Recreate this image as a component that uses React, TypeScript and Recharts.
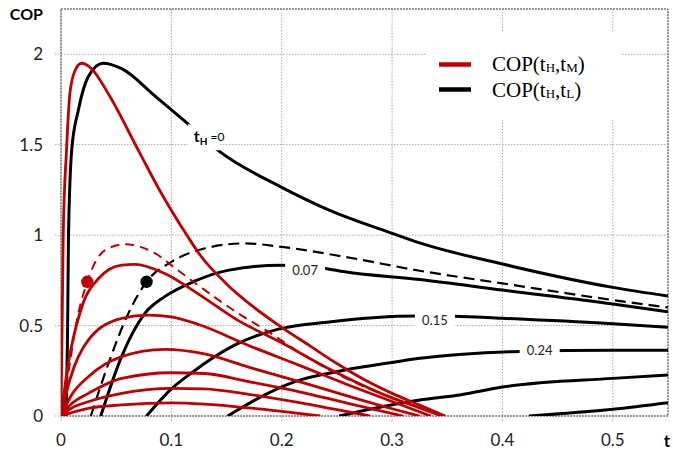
import {
  ComposedChart, Line, Scatter, XAxis, YAxis, CartesianGrid, ReferenceArea,
} from 'recharts'

type Pt = [number, number]

const xTicks = [0, 0.1, 0.2, 0.3, 0.4, 0.5]
const yTicks = [0, 0.5, 1, 1.5, 2]

// COP(tH,tM) – red family, all starting at the origin
const redTop: Pt[] = [[0, 0], [0.002, 1.0], [0.005, 1.47], [0.008, 1.78], [0.0127, 1.91], [0.0187, 1.95], [0.0277, 1.92], [0.043, 1.78], [0.07, 1.47], [0.091, 1.23], [0.114, 1.0], [0.126, 0.89], [0.15, 0.73], [0.175, 0.6], [0.2, 0.49], [0.225, 0.39], [0.25, 0.29], [0.275, 0.2], [0.3, 0.125], [0.325, 0.06], [0.348, 0]]
const redDashed: Pt[] = [[0, 0], [0.004, 0.15], [0.008, 0.29], [0.0127, 0.475], [0.0238, 0.742], [0.04, 0.917], [0.058, 0.95], [0.085, 0.9], [0.105, 0.81], [0.124, 0.724], [0.16, 0.57], [0.192, 0.45], [0.21, 0.375], [0.24, 0.265], [0.27, 0.175], [0.3, 0.1], [0.325, 0.045], [0.348, 0]]
const red083: Pt[] = [[0, 0], [0.0066, 0.29], [0.0187, 0.6], [0.034, 0.76], [0.055, 0.834], [0.067, 0.838], [0.094, 0.788], [0.126, 0.668], [0.16, 0.53], [0.2, 0.405], [0.24, 0.27], [0.27, 0.18], [0.3, 0.1], [0.325, 0.045], [0.345, 0]]
const red056: Pt[] = [[0, 0], [0.008, 0.2], [0.0247, 0.42], [0.055, 0.54], [0.079, 0.558], [0.1, 0.548], [0.126, 0.503], [0.17, 0.39], [0.216, 0.28], [0.261, 0.17], [0.3, 0.08], [0.335, 0]]
const red037: Pt[] = [[0, 0], [0.01, 0.12], [0.0247, 0.217], [0.055, 0.328], [0.094, 0.368], [0.13, 0.343], [0.17, 0.27], [0.216, 0.19], [0.26, 0.11], [0.3, 0.04], [0.325, 0]]
const red024: Pt[] = [[0, 0], [0.01, 0.07], [0.0247, 0.125], [0.055, 0.208], [0.1, 0.239], [0.13, 0.235], [0.17, 0.19], [0.216, 0.134], [0.26, 0.07], [0.31, 0]]
const red015: Pt[] = [[0, 0], [0.01, 0.045], [0.0247, 0.079], [0.055, 0.125], [0.1, 0.153], [0.13, 0.15], [0.17, 0.12], [0.216, 0.074], [0.25, 0.035], [0.28, 0]]
const red007: Pt[] = [[0, 0], [0.0247, 0.042], [0.055, 0.061], [0.1, 0.073], [0.13, 0.066], [0.17, 0.045], [0.2, 0.025], [0.235, 0]]

// COP(tH,tL) – black family
const blackTH0: Pt[] = [[0.0045, 0], [0.006, 0.5], [0.0068, 1.0], [0.0097, 1.47], [0.0157, 1.69], [0.0247, 1.875], [0.038, 1.95], [0.055, 1.92], [0.085, 1.77], [0.114, 1.62], [0.142, 1.47], [0.2, 1.264], [0.243, 1.138], [0.3, 1.01], [0.325, 0.957], [0.4, 0.84], [0.5, 0.711], [0.55, 0.663]]
const blackDashed: Pt[] = [[0.027, 0], [0.043, 0.29], [0.061, 0.567], [0.0775, 0.742], [0.1, 0.852], [0.13, 0.926], [0.166, 0.954], [0.2, 0.935], [0.257, 0.88], [0.325, 0.803], [0.4, 0.733], [0.5, 0.641], [0.55, 0.6]]
const black007: Pt[] = [[0.036, 0], [0.055, 0.33], [0.076, 0.567], [0.094, 0.66], [0.121, 0.745], [0.151, 0.805], [0.2, 0.834], [0.239, 0.816], [0.257, 0.797], [0.325, 0.755], [0.4, 0.696], [0.5, 0.619], [0.55, 0.576]]
const black015: Pt[] = [[0.0775, 0], [0.1, 0.15], [0.121, 0.25], [0.13, 0.29], [0.16, 0.4], [0.197, 0.48], [0.243, 0.52], [0.322, 0.553], [0.356, 0.552], [0.4, 0.54], [0.5, 0.51], [0.55, 0.49]]
const black024: Pt[] = [[0.151, 0], [0.1815, 0.107], [0.212, 0.19], [0.25, 0.245], [0.304, 0.3], [0.325, 0.319], [0.361, 0.34], [0.415, 0.357], [0.5, 0.363], [0.55, 0.363]]
const black5: Pt[] = [[0.252, 0], [0.304, 0.066], [0.325, 0.088], [0.361, 0.116], [0.4, 0.16], [0.5, 0.208], [0.55, 0.226]]
const black6: Pt[] = [[0.424, 0], [0.5, 0.037], [0.55, 0.073]]

const redDot = [{ t: 0.0238, v: 0.742 }]
const blackDot = [{ t: 0.0775, v: 0.742 }]

const curveLabels = [
  { t: 0.133, v: 1.541, text: '=0', th: true },
  { t: 0.2212, v: 0.807, text: '0.07' },
  { t: 0.3388, v: 0.528, text: '0.15' },
  { t: 0.4337, v: 0.365, text: '0.24' },
]

const RED = '#C00000'
const rows = (a: Pt[]) => a.map(([t, v]) => ({ t, v }))

const redSolid = [redTop, red083, red056, red037, red024, red015, red007]
const blackSolid = [blackTH0, black007, black015, black024, black5, black6]

function CurveLabel(props: any) {
  const { cx, cy, payload } = props
  if (payload.th) {
    return (
      <g>
        <rect x={cx - 20} y={cy - 13} width={32} height={26} fill="#fff" />
        <text x={cx - 14} y={cy + 5} fontFamily="Lato" fill="#000">
          <tspan fontWeight="bold" fontSize={16}>t</tspan>
          <tspan fontWeight="bold" fontSize={10} dy={3}>H</tspan>
          <tspan fontSize={12} dx={3} dy={-4}>{payload.text}</tspan>
        </text>
      </g>
    )
  }
  return (
    <g>
      <rect x={cx - 20} y={cy - 12} width={40} height={20} fill="#fff" />
      <text x={cx} y={cy + 5} textAnchor="middle" fontFamily="Lato" fontSize={13} fill="#222">
        {payload.text}
      </text>
    </g>
  )
}

const Dot = (color: string) => (p: any) => <circle cx={p.cx} cy={p.cy} r={6.2} fill={color} />

function YTitle(props: any) {
  const vb = props.viewBox
  return (
    <text x={vb.x + vb.width - 18} y={vb.y + 11} textAnchor="end" fontFamily="Lato" fontWeight="bold" fontSize={16} fill="#000">
      COP
    </text>
  )
}

function XTitle(props: any) {
  const vb = props.viewBox
  return (
    <text x={vb.x + vb.width - 1} y={vb.y + 31} textAnchor="middle" fontFamily="Lato" fontWeight="bold" fontSize={17} fill="#000">
      t
    </text>
  )
}

export default function App() {
  const tick = { fontSize: 17, fill: '#222', fontFamily: 'Lato' }
  const tickLine = { stroke: '#a6a6a6', strokeDasharray: '1.5 1.5' }
  return (
    <div style={{ position: 'absolute', left: 0, top: 0, width: 673, height: 455, background: '#fff' }}>
      <ComposedChart width={673} height={455} margin={{ top: 9, right: 5, bottom: 0, left: 0 }}>
        <CartesianGrid stroke="#a6a6a6" strokeDasharray="1.5 1.5" />
        <XAxis
          type="number"
          dataKey="t"
          domain={[0, 0.55]}
          ticks={xTicks}
          allowDataOverflow
          axisLine={false}
          tickLine={tickLine}
          tickSize={5}
          tickMargin={13}
          tick={tick}
          height={39}
          label={<XTitle />}
        />
        <YAxis
          type="number"
          domain={[0, 2.25]}
          ticks={yTicks}
          allowDataOverflow
          axisLine={false}
          tickLine={tickLine}
          tickSize={6}
          tickMargin={12}
          tick={tick}
          width={61}
          label={<YTitle />}
        />
        <ReferenceArea x1={0} x2={0.55} y1={0} y2={2.25} fill="none" fillOpacity={0} stroke="#505050" strokeDasharray="2 1" />
        {blackSolid.map((c, i) => (
          <Line key={'b' + i} data={rows(c)} dataKey="v" type="monotone" stroke="#000" strokeWidth={3} dot={false} isAnimationActive={false} />
        ))}
        <Line data={rows(blackDashed)} dataKey="v" type="monotone" stroke="#000" strokeWidth={2.2} strokeDasharray="11 6" dot={false} isAnimationActive={false} />
        {redSolid.map((c, i) => (
          <Line key={'r' + i} data={rows(c)} dataKey="v" type="monotone" stroke={RED} strokeWidth={2.8} dot={false} isAnimationActive={false} />
        ))}
        <Line data={rows(redDashed)} dataKey="v" type="monotone" stroke={RED} strokeWidth={2} strokeDasharray="9 6" dot={false} isAnimationActive={false} />
        <Scatter data={curveLabels} dataKey="v" shape={CurveLabel} isAnimationActive={false} />
        <Scatter data={redDot} dataKey="v" shape={Dot(RED)} isAnimationActive={false} />
        <Scatter data={blackDot} dataKey="v" shape={Dot('#000')} isAnimationActive={false} />
      </ComposedChart>
      <svg width={193} height={87} style={{ position: 'absolute', left: 427, top: 33 }}>
        <rect width={193} height={87} fill="#fff" />
        <line x1={12} x2={44} y1={31.5} y2={31.5} stroke={RED} strokeWidth={4.5} />
        <line x1={12} x2={44} y1={56.5} y2={56.5} stroke="#000" strokeWidth={4.5} />
        <text x={65} y={38} fontFamily="Liberation Serif" fontSize={21} fill="#000">
          COP(t<tspan fontSize={13} dy={1}>H</tspan><tspan dy={-1}>,t</tspan><tspan fontSize={13} dy={1}>M</tspan><tspan dy={-1}>)</tspan>
        </text>
        <text x={65} y={63.5} fontFamily="Liberation Serif" fontSize={21} fill="#000">
          COP(t<tspan fontSize={13} dy={1}>H</tspan><tspan dy={-1}>,t</tspan><tspan fontSize={13} dy={1}>L</tspan><tspan dy={-1}>)</tspan>
        </text>
      </svg>
    </div>
  )
}
